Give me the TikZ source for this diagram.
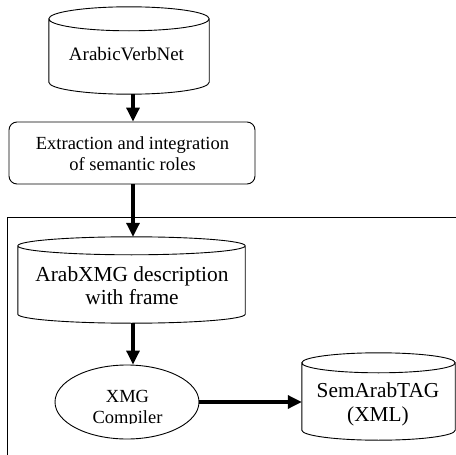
\documentclass[tikz,border=0pt]{standalone}
\usepackage{fontspec}
\setmainfont{Liberation Serif}
\usetikzlibrary{arrows.meta,calc,shapes.geometric}
\newcommand\cylout[2]{%
  \draw[thinline] let \p1=(#1.north west), \p2=(#1.south east), \n1={(\x2-\x1)/2} in
    ($(#1.north)+(0,-#2pt)$) ellipse[x radius=\n1, y radius=#2pt]
    (\x1,\y1-#2pt) -- (\x1,\y2+#2pt)
    arc[start angle=180, end angle=360, x radius=\n1, y radius=#2pt]
    -- (\x2,\y1-#2pt);}
\begin{document}
\begin{tikzpicture}[x=1pt,y=1pt,
  thinline/.style={line width=0.9pt, black},
  cylbox/.style={draw=none, inner sep=0pt},
  lbl/.style={inner sep=0pt, anchor=base, align=center},
  flow/.style={line width=3.2pt, -{Triangle[width=13pt,length=14pt]}},
  procbox/.style={thinline, draw, rounded corners=8pt, inner sep=0pt}]
\useasboundingbox (0,0) rectangle (456,-455);
% frame
\draw[thinline] (456,-217) -- (7,-217) -- (7,-456);
% ArabicVerbNet cylinder
\node[cylbox, minimum width=160pt, minimum height=87pt] (avn) at (129,-50.5) {};
\cylout{avn}{12}
\node[lbl, font=\fontsize{19}{21}\selectfont] (avnT) at (126.5,-60) {ArabicVerbNet};
% extraction box
\node[procbox, minimum width=246pt, minimum height=62pt] (ext) at (132,-153) {};
\node[lbl, font=\fontsize{18.5}{21}\selectfont] (extT) at (132.5,-170) {Extraction and integration\\of semantic roles};
% ArabXMG cylinder
\node[cylbox, minimum width=227pt, minimum height=86pt] (axm) at (131.5,-280) {};
\cylout{axm}{9}
\node[lbl, font=\fontsize{21.4}{23}\selectfont] (axmT) at (132,-304) {ArabXMG description\\with frame};
% XMG compiler ellipse
\node[ellipse, thinline, draw, minimum width=144pt, minimum height=74pt, inner sep=0pt] (xmg) at (127,-402) {};
\begin{scope}
  \clip (50,-370) rectangle (205,-423.5);
  \node[lbl, font=\fontsize{18.5}{21}\selectfont] (xmgT) at (127.5,-423) {XMG\\Compiler};
\end{scope}
% SemArabTAG cylinder
\node[cylbox, minimum width=153pt, minimum height=87pt] (sat) at (378.5,-396.5) {};
\cylout{sat}{10}
\node[lbl, font=\fontsize{21.3}{24}\selectfont] (satT) at (378,-421) {SemArabTAG\\(XML)};
% connectors
\coordinate (ax) at (133,0);
\draw[flow] (avn.south -| ax) -- (ext.north -| ax);
\draw[flow] (ext.south -| ax) -- (axm.north -| ax);
\draw[flow] (axm.south -| ax) -- (xmg.north -| ax);
\draw[flow] (xmg.east) -- (xmg.east -| sat.west);
\end{tikzpicture}
\end{document}
